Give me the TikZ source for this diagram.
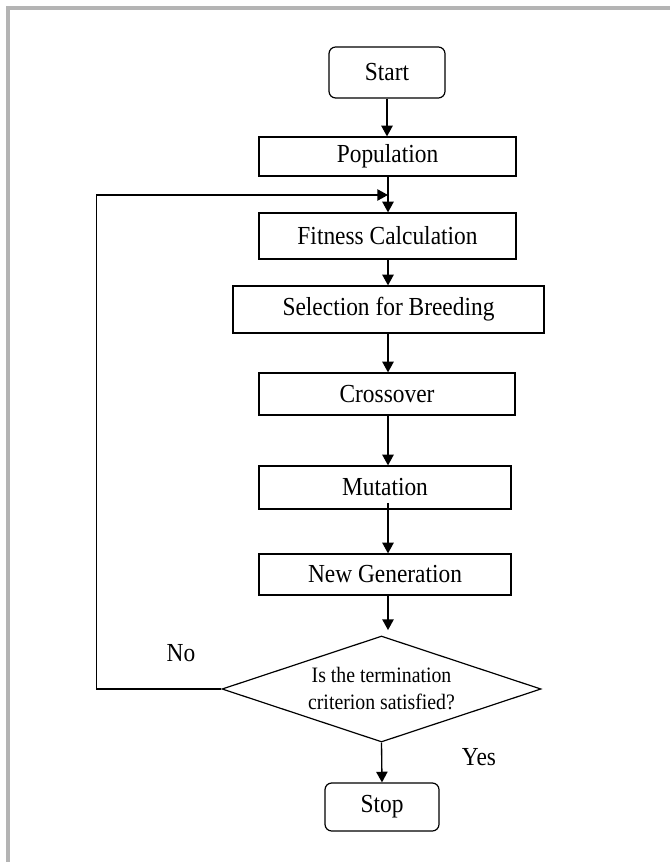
\documentclass[tikz,border=0pt]{standalone}
\usepackage{xcolor}
\usepackage{fontspec}
\setmainfont{Liberation Serif}[FakeStretch=0.9]
\usepackage{tikz}
\usetikzlibrary{arrows.meta}
\usetikzlibrary{positioning, shapes.geometric}
\definecolor{framegray}{RGB}{180,180,180}
\tikzset{
flow box/.style = { rectangle, draw = black, fill = white, line width = 0.9pt, inner sep = 0pt, font = \fontsize{19.5}{22}\selectfont },
flow end/.style = { flow box, rounded corners = 5pt },
flow test/.style = { diamond, draw = black, fill = white, line width = 0.9pt, inner sep = 0pt, aspect = 3, align = center, font = \fontsize{16.5}{20.25}\selectfont },
flow label/.style = { draw = none, fill = none, inner sep = 0pt, font = \fontsize{19.5}{22}\selectfont },
}
\begin{document}
\begin{tikzpicture}[x=0.75pt, y=-0.75pt]
      \useasboundingbox (0,0) rectangle (670,862);
      % frame round the figure
      \draw[line width=3pt, draw=framegray] (8,862) -- (8,8) -- (670,8);
      \begin{scope}
        \node[flow end, minimum width=87pt, minimum height=38.25pt] (start) at (387,72.5) {Start};
        \node[flow box, minimum width=192.75pt, minimum height=29.25pt] (population) at (387.5,156.5) {Population};
        \node[flow box, minimum width=192.75pt, minimum height=34.5pt] (fitness) at (387.5,236) {Fitness Calculation};
        \node[flow box, minimum width=233.25pt, minimum height=35.25pt] (selection) at (388.5,309.5) {Selection for Breeding};
        \node[flow box, minimum width=192pt, minimum height=31.5pt] (crossover) at (387,394) {Crossover};
        \node[flow box, minimum width=189pt, minimum height=32.25pt] (mutation) at (385,487.5) {Mutation};
        \node[flow box, minimum width=189pt, minimum height=30.75pt] (newgen) at (385,574.5) {New Generation};
        \node[flow test, minimum width=239.25pt, minimum height=79.5pt] (decision) at (381.5,689) {Is the termination\\criterion satisfied?};
        \node[flow end, minimum width=85.5pt, minimum height=36pt] (stop) at (382,807) {Stop};
        \coordinate (joint) at (388,195);
        \node[flow label] (no) at (181,653) {No};
        \node[flow label] (yes) at (479,757) {Yes};
      \end{scope}
      \begin{scope}[>={Triangle[length=8pt, width=8.5pt]},
                    every edge/.style={draw=black, line width=1pt}]
        \path [->] (start.south) edge (start.south |- population.north);
        \path [->] (population.south -| joint) edge (fitness.north -| joint);
        \path [->] (fitness.south -| joint) edge (selection.north -| joint);
        \path [->] (selection.south -| joint) edge (crossover.north -| joint);
        \path [->] (crossover.south -| joint) edge (mutation.north -| joint);
        \path [->] ([yshift=5pt]mutation.south -| joint) edge (newgen.north -| joint);
        \path [->] (newgen.south -| joint) edge [shorten >=4pt] (decision.north -| joint);
        \path [->] (decision.south) edge (stop.north);
        \draw [->, line width=1pt] (decision.west) -- ++(-125,0) |- (joint);
      \end{scope}
    \end{tikzpicture}
\end{document}
